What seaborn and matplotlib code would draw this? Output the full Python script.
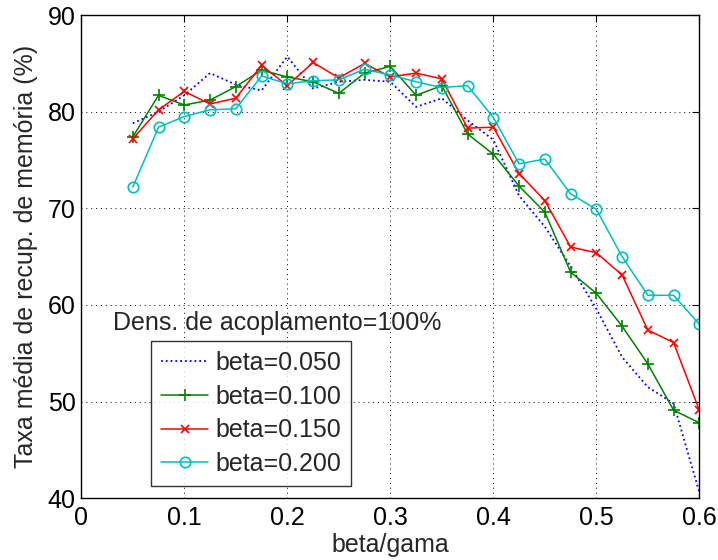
import numpy as np
import matplotlib
matplotlib.use("Agg")
import matplotlib.pyplot as plt
import seaborn as sns

# beta/gama sample points
ratio = [0.05, 0.075, 0.1, 0.125, 0.15, 0.175, 0.2, 0.225, 0.25, 0.275, 0.3,
         0.325, 0.35, 0.375, 0.4, 0.425, 0.45, 0.475, 0.5, 0.525, 0.55, 0.575, 0.6]

# mean memory recovery rate (%) for each beta
rate_b050 = [78.8, 80.0, 81.7, 84.0, 82.8, 82.2, 85.7, 82.4, 83.1, 83.3, 83.1,
             80.5, 81.4, 79.1, 77.1, 71.3, 68.1, 64.0, 59.6, 54.6, 51.5, 49.8, 40.6]
rate_b100 = [77.4, 81.7, 80.7, 81.2, 82.6, 84.3, 83.6, 83.1, 81.9, 84.0, 84.7,
             81.7, 82.7, 77.7, 75.6, 72.3, 69.6, 63.4, 61.2, 57.8, 53.9, 49.1, 47.8]
rate_b150 = [77.2, 80.2, 82.1, 80.8, 81.4, 84.8, 82.7, 85.1, 83.5, 85.0, 83.6,
             84.0, 83.4, 78.3, 78.4, 73.6, 70.8, 66.0, 65.4, 63.1, 57.4, 56.1, 49.1]
rate_b200 = [72.2, 78.4, 79.5, 80.2, 80.3, 83.7, 82.9, 83.2, 83.3, 84.4, 83.8,
             83.1, 82.5, 82.7, 79.4, 74.6, 75.1, 71.5, 69.9, 65.0, 61.0, 61.0, 58.0]

labels = ["beta=0.050", "beta=0.100", "beta=0.150", "beta=0.200"]
x_ticks = [0, 0.1, 0.2, 0.3, 0.4, 0.5, 0.6]
x_ticklabels = ["0", "0.1", "0.2", "0.3", "0.4", "0.5", "0.6"]
y_ticks = [40, 50, 60, 70, 80, 90]

sns.set_style("white")
plt.rcParams["font.family"] = ["Liberation Sans", "DejaVu Sans"]
FS = 18
LW = 1.1

fig = plt.figure(figsize=(7.18, 5.6), dpi=100)
ax = fig.add_axes([0.1132, 0.1105, 0.8608, 0.8625])

sns.lineplot(x=ratio, y=rate_b050, ax=ax, color="#0000ff", linestyle=":",
             linewidth=1.3, label=labels[0])
sns.lineplot(x=ratio, y=rate_b100, ax=ax, color="#008000", marker="+",
             markersize=8, markeredgewidth=1.2, markeredgecolor="#008000",
             linewidth=LW, label=labels[1])
sns.lineplot(x=ratio, y=rate_b150, ax=ax, color="#ff0000", marker="x",
             markersize=6, markeredgewidth=1.2, markeredgecolor="#ff0000",
             linewidth=LW, label=labels[2])
sns.lineplot(x=ratio, y=rate_b200, ax=ax, color="#00bfbf", marker="o",
             markersize=7.5, markerfacecolor="none", markeredgecolor="#00bfbf",
             markeredgewidth=1.2, linewidth=LW, label=labels[3])

ax.set_xlim(0, 0.6)
ax.set_ylim(40, 90)
ax.set_xticks(x_ticks)
ax.set_xticklabels(x_ticklabels)
ax.set_yticks(y_ticks)
ax.tick_params(direction="in", top=True, right=True, length=5, width=0.8,
               labelsize=FS, colors="black")
ax.tick_params(axis="x", pad=6)
ax.tick_params(axis="y", pad=4)
ax.grid(True, color="black", linestyle=(0, (1, 4)), linewidth=0.7)
for s in ax.spines.values():
    s.set_color("black")
    s.set_linewidth(1.0)

ax.set_xlabel("beta/gama", fontsize=FS, labelpad=2)
ax.set_ylabel("Taxa média de recup. de memória (%)", fontsize=FS, labelpad=7)

ax.text(0.051, 0.348, "Dens. de acoplamento=100%", transform=ax.transAxes,
        fontsize=FS, ha="left", va="baseline")

leg = ax.legend(loc="upper left", bbox_to_anchor=(0.113, 0.325), fontsize=FS,
                frameon=True, fancybox=False, edgecolor="black",
                handlelength=1.9, handletextpad=0.28, labelspacing=0.39,
                borderpad=0.39, borderaxespad=0)
leg.get_frame().set_linewidth(1.0)

fig.savefig("out.png", dpi=100, facecolor="white")
